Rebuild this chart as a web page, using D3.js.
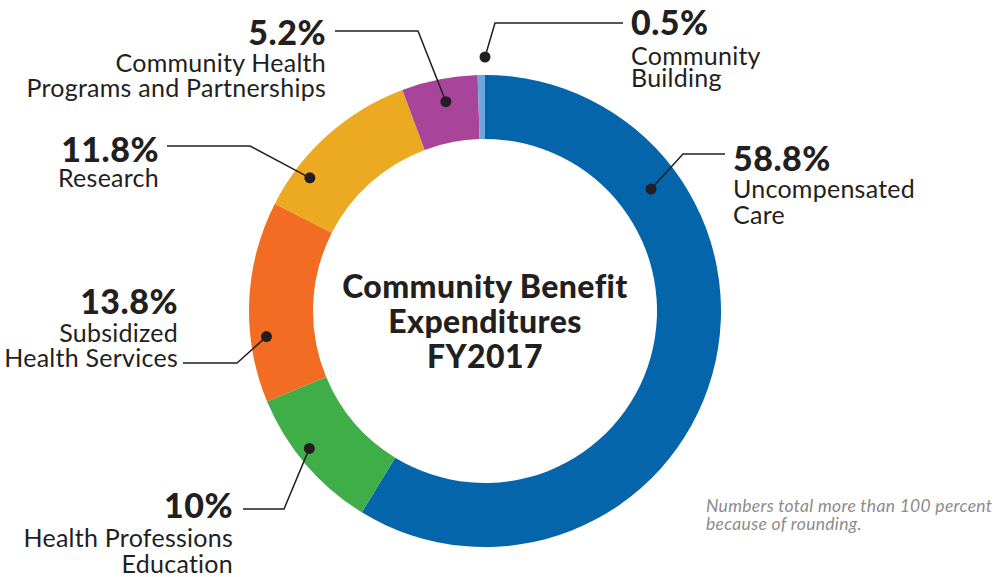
<!DOCTYPE html>
<html><head><meta charset="utf-8">
<script src="https://cdn.jsdelivr.net/npm/d3@7"></script>
<style>
html,body{margin:0;padding:0;background:#fff;}
svg{display:block;}
</style></head>
<body>
<script>
// ---- data ----
const categories = ["Uncompensated Care","Health Professions Education","Subsidized Health Services","Research","Community Health Programs and Partnerships","Community Building"];
const values = [58.8, 10, 13.8, 11.8, 5.2, 0.5];
const pctLabels = ["58.8%","10%","13.8%","11.8%","5.2%","0.5%"];
const labelLines = [["Uncompensated","Care"],["Health Professions","Education"],["Subsidized","Health Services"],["Research"],["Community Health","Programs and Partnerships"],["Community","Building"]];
const colors = ["#0565aa","#3fae49","#f26c23","#ebaa22","#a8449a","#6ea7dc"];
const titleLines = ["Community Benefit","Expenditures","FY2017"];
const noteLines = ["Numbers total more than 100 percent","because of rounding."];

// ---- layout ----
const W = 1003, H = 577, cx = 485, cy = 311, rOuter = 236, rInner = 172;
// dot position: fraction along slice, radius; elbow & end of leader; label anchor
const layout = [
  {f:0.254, r:206, elbow:[683,154], end:[725,154], tx:733, ty:171, anchor:"start", off:27, lh:26},
  {f:0.57,  r:223, elbow:[284,509], end:[243,509], tx:233, ty:518, anchor:"end", off:29, lh:26},
  {f:0.32,  r:220, elbow:[237,363], end:[183,363], tx:178, ty:314, anchor:"end", off:28, lh:25},
  {f:0.24,  r:220, elbow:[250,146], end:[167,146], tx:159, ty:162, anchor:"end", off:25, lh:25},
  {f:0.53,  r:213, elbow:[418,31],  end:[335,31],  tx:326, ty:45,  anchor:"end", off:27, lh:25},
  {f:1.0,   r:254, elbow:[495,23],  end:[623,23],  tx:631, ty:35,  anchor:"start", off:30, lh:22}
];

const svg = d3.select("body").append("svg").attr("width",W).attr("height",H);
const g = svg.append("g").attr("transform",`translate(${cx},${cy})`);

const pie = d3.pie().sort(null).value(d=>d)(values);
const arc = d3.arc().innerRadius(rInner).outerRadius(rOuter);

g.selectAll("path.slice").data(pie).join("path")
  .attr("class","slice")
  .attr("d",arc)
  .attr("fill",(d,i)=>colors[i]);

const ink = "#231f20";
const fontLabel = "'Lato', 'Open Sans', sans-serif";

pie.forEach((d,i)=>{
  const L = layout[i];
  const a = d.startAngle + (d.endAngle - d.startAngle)*L.f;
  const px = cx + L.r*Math.sin(a), py = cy - L.r*Math.cos(a);
  svg.append("polyline")
    .attr("points",[[px,py],L.elbow,L.end].map(p=>p.join(",")).join(" "))
    .attr("fill","none").attr("stroke",ink).attr("stroke-width",1.5);
  svg.append("circle").attr("cx",px).attr("cy",py).attr("r",5.5).attr("fill",ink);
  svg.append("text").attr("x",L.tx).attr("y",L.ty)
    .attr("text-anchor",L.anchor)
    .attr("font-family",fontLabel).attr("font-weight",900)
    .attr("font-size",34).attr("fill",ink)
    .attr("letter-spacing",0.5)
    .text(pctLabels[i]);
  labelLines[i].forEach((ln,j)=>{
    svg.append("text").attr("x",L.tx).attr("y",L.ty+L.off+j*L.lh)
      .attr("text-anchor",L.anchor)
      .attr("font-family",fontLabel).attr("font-weight",400)
      .attr("font-size",25).attr("fill",ink)
      .attr("letter-spacing",0.25)
      .text(ln);
  });
});

const titleY = [298,333,368];
titleLines.forEach((t,j)=>{
  svg.append("text").attr("x",cx).attr("y",titleY[j])
    .attr("text-anchor","middle")
    .attr("font-family",fontLabel).attr("font-weight",900)
    .attr("font-size",32).attr("fill",ink)
    .attr("letter-spacing",0.4)
    .text(t);
});

noteLines.forEach((t,j)=>{
  svg.append("text").attr("x",706).attr("y",512+j*18)
    .attr("font-family",fontLabel).attr("font-style","italic")
    .attr("font-size",17.5).attr("fill","#8c8c8c")
    .attr("letter-spacing",0.3)
    .text(t);
});
</script>
</body></html>
